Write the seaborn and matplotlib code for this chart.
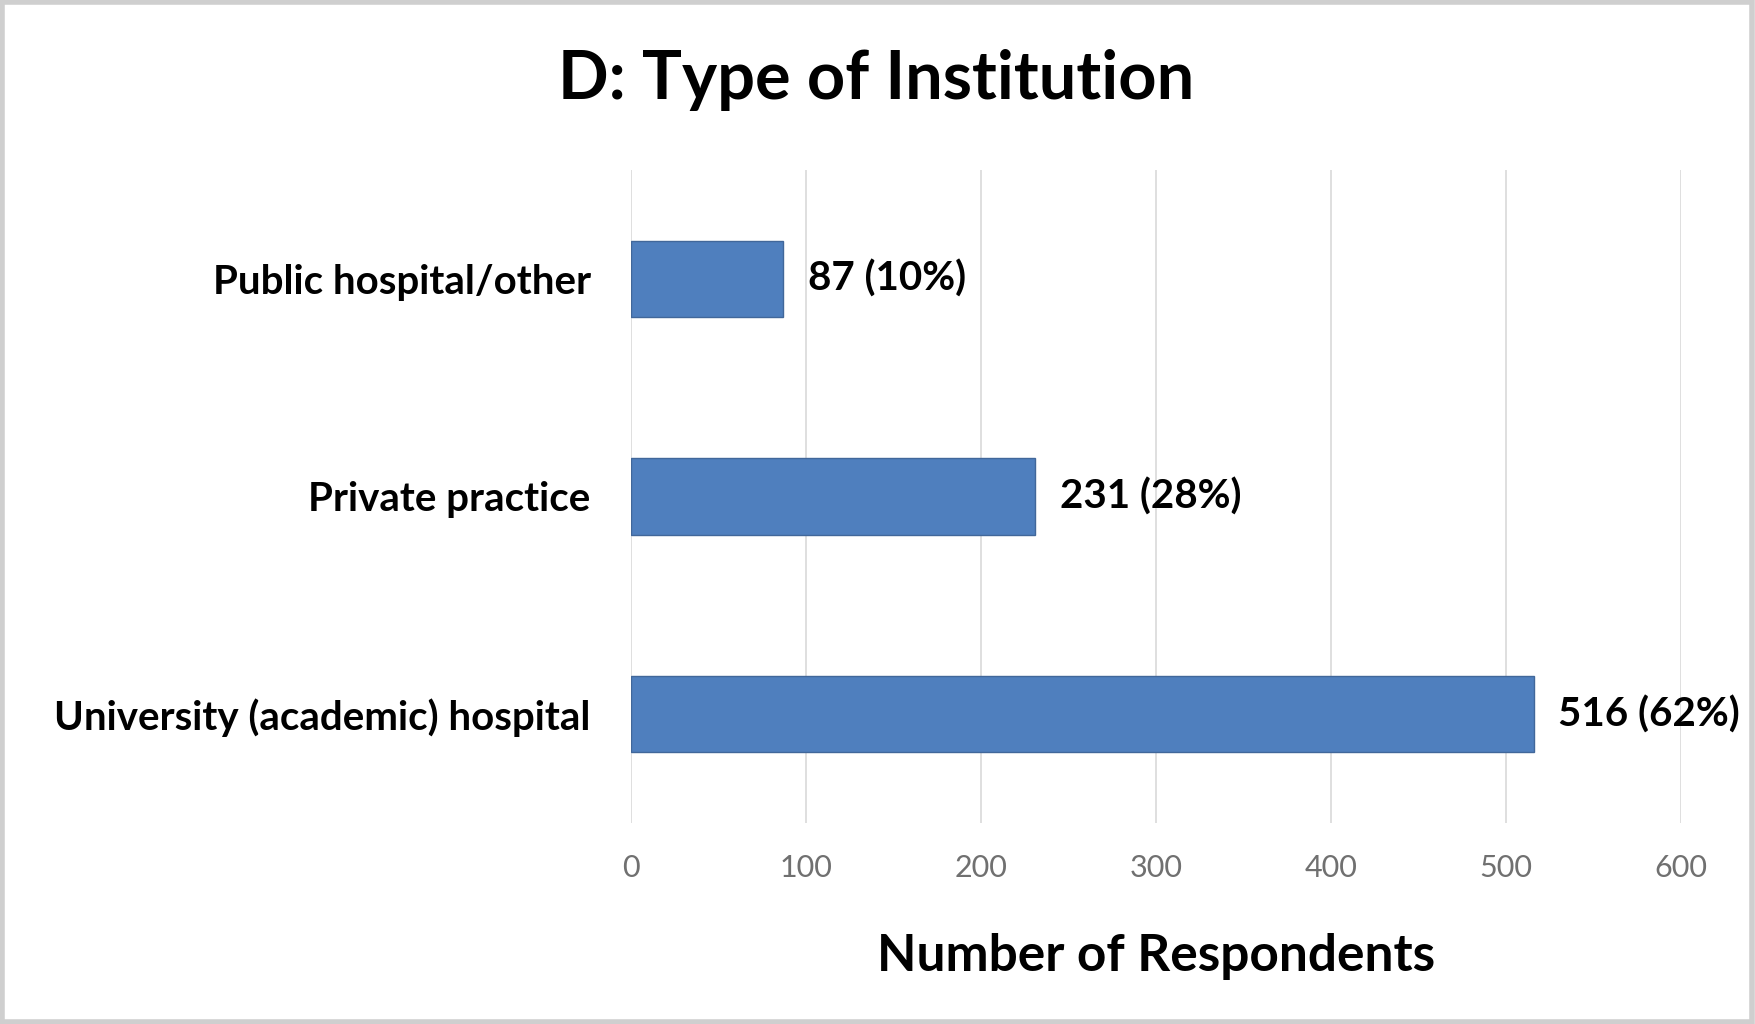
import matplotlib
matplotlib.use("Agg")
import matplotlib.pyplot as plt
import seaborn as sns
import pandas as pd
from matplotlib.patches import Rectangle

categories = ["Public hospital/other", "Private practice", "University (academic) hospital"]
counts = [87, 231, 516]
labels = ["87 (10%)", "231 (28%)", "516 (62%)"]
xticks = [0, 100, 200, 300, 400, 500, 600]

df = pd.DataFrame({"category": categories, "count": counts})

sns.set_theme(style="white")
plt.rcParams["font.family"] = ["Lato", "DejaVu Sans"]

fig = plt.figure(figsize=(17.56, 10.24), dpi=100)
ax = fig.add_axes([631/1756, 1 - 823/1024, (1681-631)/1756, (823-170)/1024])

sns.barplot(data=df, x="count", y="category", orient="h", color="#4F7FBE",
            width=0.35, saturation=1, edgecolor="#41679a", linewidth=1, ax=ax, zorder=3)

ax.set_xlim(0, 600)
ax.set_ylim(2.5, -0.5)
ax.set_xticks(xticks)
ax.set_xticklabels([str(t) for t in xticks], color="#707070", fontsize=22)
ax.tick_params(axis="x", length=0, pad=22)
ax.tick_params(axis="y", length=0, pad=29, labelsize=29)
for t in ax.get_yticklabels():
    t.set_fontweight("bold")
    t.set_color("black")
ax.grid(axis="x", color="#d9d9d9", linewidth=1.2, zorder=0)
ax.grid(axis="y", visible=False)
for s in ax.spines.values():
    s.set_visible(False)

for i, (v, lab) in enumerate(zip(counts, labels)):
    ax.text(v + 14, i, lab, va="center", ha="left", fontsize=29, fontweight="bold", color="black")

ax.set_ylabel("")
ax.set_xlabel("Number of Respondents", fontsize=37, fontweight="bold", color="black", labelpad=37)

fig.text(876/1756, 1 - 80/1024, "D: Type of Institution", ha="center", va="center",
         fontsize=48, fontweight="bold", color="black")

fig.patches.append(Rectangle((0.001, 0.002), 0.997, 0.996, transform=fig.transFigure,
                             fill=False, edgecolor="#cfcfcf", linewidth=4))

fig.savefig("out.png", dpi=100, facecolor="white")
